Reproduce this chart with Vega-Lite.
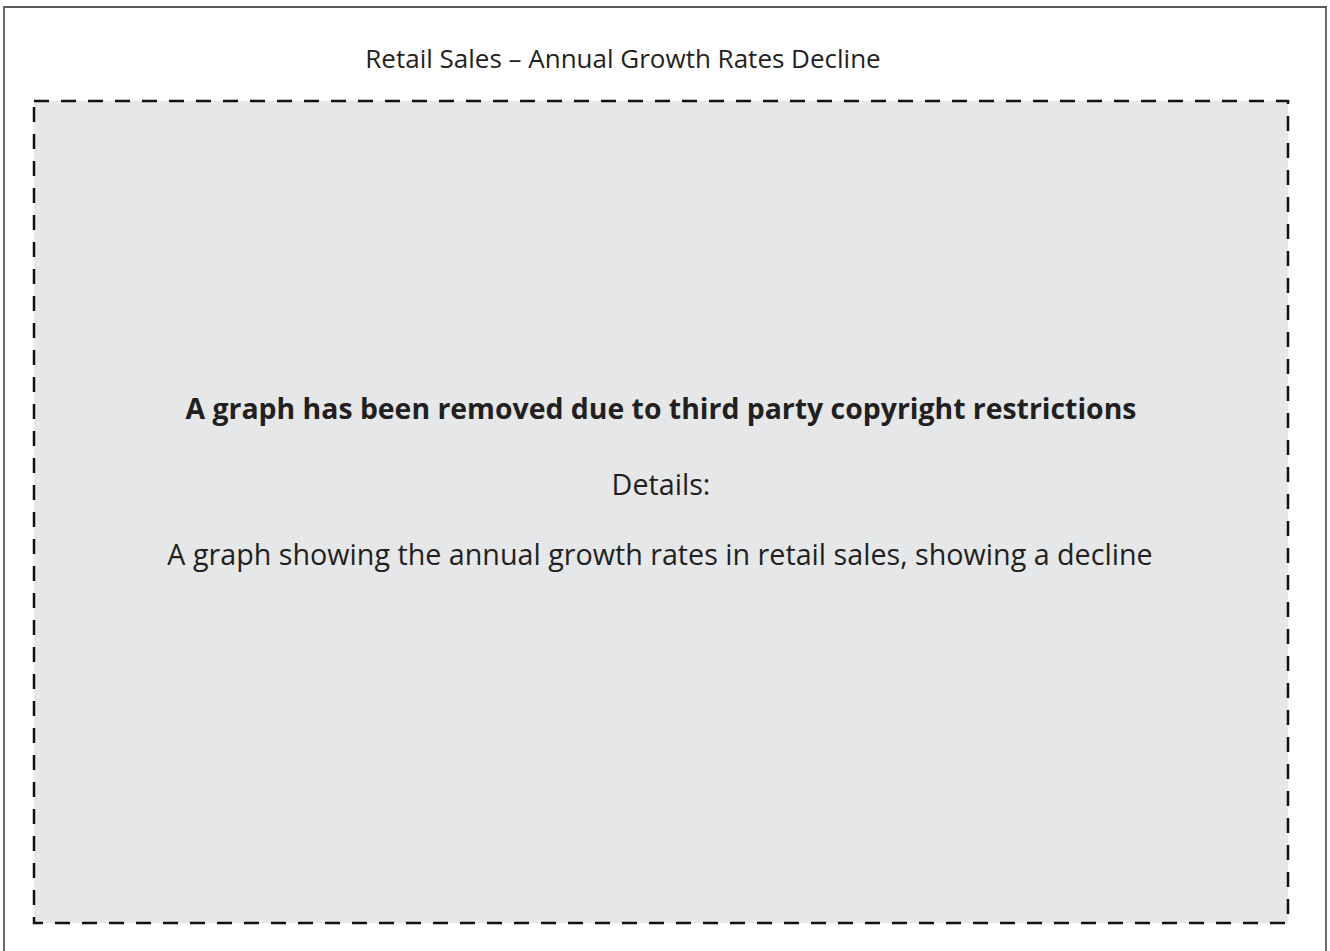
{
  "$schema": "https://vega.github.io/schema/vega-lite/v6.json",
  "width": 1330,
  "height": 951,
  "padding": 0,
  "autosize": {"type": "fit", "contains": "padding"},
  "background": "white",
  "view": {"stroke": null},
  "datasets": {
    "frames": [
      {"name": "outer", "x1": 4, "x2": 1326, "y1": 7, "y2": 1000},
      {"name": "panel", "x1": 34, "x2": 1288, "y1": 101, "y2": 923}
    ],
    "texts": [
      {"kind": "title", "label": "Retail Sales – Annual Growth Rates Decline", "x": 623, "y": 60},
      {"kind": "bold", "label": "A graph has been removed due to third party copyright restrictions", "x": 661, "y": 410},
      {"kind": "plain", "label": "Details:", "x": 661, "y": 486},
      {"kind": "plain", "label": "A graph showing the annual growth rates in retail sales, showing a decline", "x": 660, "y": 556}
    ]
  },
  "layer": [
    {
      "data": {"name": "frames"},
      "transform": [{"filter": "datum.name === 'outer'"}],
      "mark": {"type": "rect", "fill": "white", "stroke": "#58595b", "strokeWidth": 1.8, "clip": true},
      "encoding": {
        "x": {"field": "x1", "type": "quantitative", "scale": {"domain": [0, 1330], "nice": false, "zero": false}, "axis": null},
        "x2": {"field": "x2"},
        "y": {"field": "y1", "type": "quantitative", "scale": {"domain": [951, 0], "nice": false, "zero": false}, "axis": null},
        "y2": {"field": "y2"}
      }
    },
    {
      "data": {"name": "frames"},
      "transform": [{"filter": "datum.name === 'panel'"}],
      "mark": {"type": "rect", "fill": "#e6e7e8", "stroke": "#111111", "strokeWidth": 2.5, "strokeDash": [15, 12]},
      "encoding": {
        "x": {"field": "x1", "type": "quantitative"},
        "x2": {"field": "x2"},
        "y": {"field": "y1", "type": "quantitative"},
        "y2": {"field": "y2"}
      }
    },
    {
      "data": {"name": "texts"},
      "transform": [{"filter": "datum.kind === 'title'"}],
      "mark": {"type": "text", "font": "Open Sans", "fontSize": 26, "color": "#231f20", "align": "center", "baseline": "middle"},
      "encoding": {
        "x": {"field": "x", "type": "quantitative"},
        "y": {"field": "y", "type": "quantitative"},
        "text": {"field": "label"}
      }
    },
    {
      "data": {"name": "texts"},
      "transform": [{"filter": "datum.kind === 'bold'"}],
      "mark": {"type": "text", "font": "Open Sans", "fontSize": 28.4, "fontWeight": "bold", "color": "#231f20", "align": "center", "baseline": "middle"},
      "encoding": {
        "x": {"field": "x", "type": "quantitative"},
        "y": {"field": "y", "type": "quantitative"},
        "text": {"field": "label"}
      }
    },
    {
      "data": {"name": "texts"},
      "transform": [{"filter": "datum.kind === 'plain'"}],
      "mark": {"type": "text", "font": "Open Sans", "fontSize": 28.7, "color": "#231f20", "align": "center", "baseline": "middle"},
      "encoding": {
        "x": {"field": "x", "type": "quantitative"},
        "y": {"field": "y", "type": "quantitative"},
        "text": {"field": "label"}
      }
    }
  ]
}
